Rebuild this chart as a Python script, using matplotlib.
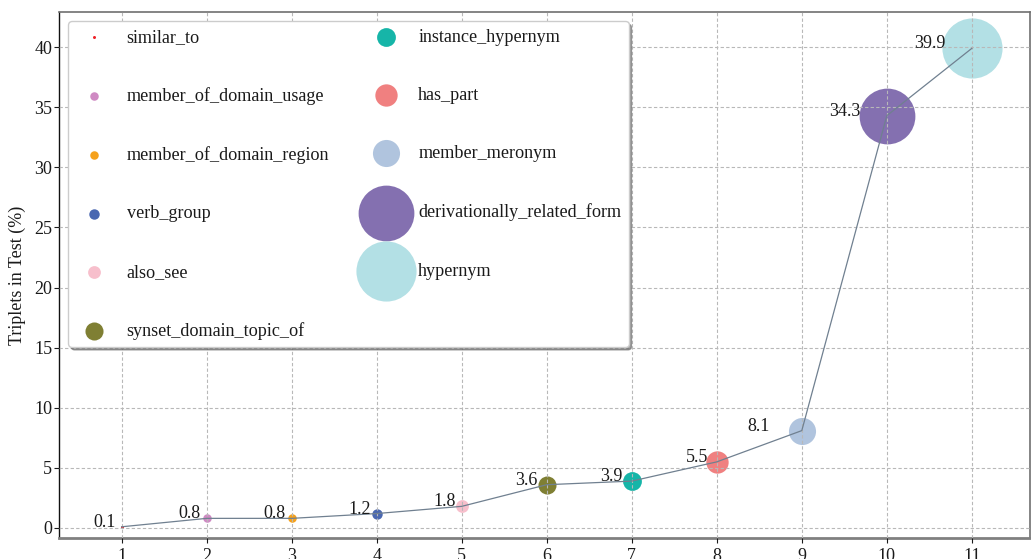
import matplotlib
matplotlib.use("Agg")
import matplotlib.pyplot as plt

plt.rcParams['font.family'] = ['Liberation Serif', 'DejaVu Serif']

relations = ["similar_to", "member_of_domain_usage", "member_of_domain_region",
             "verb_group", "also_see", "synset_domain_topic_of",
             "instance_hypernym", "has_part", "member_meronym",
             "derivationally_related_form", "hypernym"]
positions = [1, 2, 3, 4, 5, 6, 7, 8, 9, 10, 11]
percent = [0.1, 0.8, 0.8, 1.2, 1.8, 3.6, 3.9, 5.5, 8.1, 34.3, 39.9]
value_labels = ["0.1", "0.8", "0.8", "1.2", "1.8", "3.6", "3.9", "5.5", "8.1", "34.3", "39.9"]

colors = ["#ee2026", "#cf8ac3", "#f5a11c", "#4a68b1", "#f7bfcc", "#7f7f33",
          "#16b5a8", "#f08080", "#b0c4de", "#8470b0", "#b3e0e5"]
label_dx = [-4.3, -4.3, -4.3, -4.3, -4.3, -6.5, -6.5, -6.5, -23, -18.7, -18.7]
size_scale = 47

fig = plt.figure(figsize=(10.31, 5.59), dpi=100)
ax = fig.add_axes([0.0575, 0.037, 0.942, 0.941])

ax.plot(positions, percent, color="#708090", lw=0.9, zorder=3)
for x, y, lab, c in zip(positions, percent, relations, colors):
    ax.scatter([x], [y], s=y * size_scale, color=c, label=lab, zorder=2, linewidths=0)

for x, y, t, dx in zip(positions, percent, value_labels, label_dx):
    ax.annotate(t, (x, y), xytext=(dx, 0), textcoords="offset points",
                ha="right", va="baseline", fontsize=13, color="#1a1a1a", zorder=4)

ax.set_xlim(0.266, 11.69)
ax.set_ylim(-0.86, 42.9)
ax.set_xticks(positions)
ax.set_yticks(range(0, 41, 5))
ax.tick_params(labelsize=13, colors="#1a1a1a", length=3.5, width=0.8)
ax.tick_params(axis="y", pad=1.5)
ax.set_ylabel("Triplets in Test (%)", fontsize=13, color="#1a1a1a", labelpad=6)

ax.grid(True, linestyle=(0, (3, 2)), color="#b8b8b8", lw=0.8, zorder=2.5)
ax.set_axisbelow(False)

ax.spines["left"].set_color("#111111")
ax.spines["left"].set_linewidth(1.0)
ax.spines["bottom"].set_color("#808080")
ax.spines["bottom"].set_linewidth(2.0)
ax.spines["top"].set_color("#707070")
ax.spines["top"].set_linewidth(1.2)
ax.spines["right"].set_color("#707070")
ax.spines["right"].set_linewidth(1.2)

leg = ax.legend(loc="upper left", ncol=2, fontsize=13.1, labelspacing=2.27,
                frameon=True, shadow=True, fancybox=True, borderaxespad=0.5,
                handletextpad=0.8, columnspacing=2.1)
leg.get_frame().set_edgecolor("#cccccc")
leg.get_frame().set_alpha(1)
for t in leg.get_texts():
    t.set_color("#1a1a1a")

fig.savefig("out.png", dpi=100)
